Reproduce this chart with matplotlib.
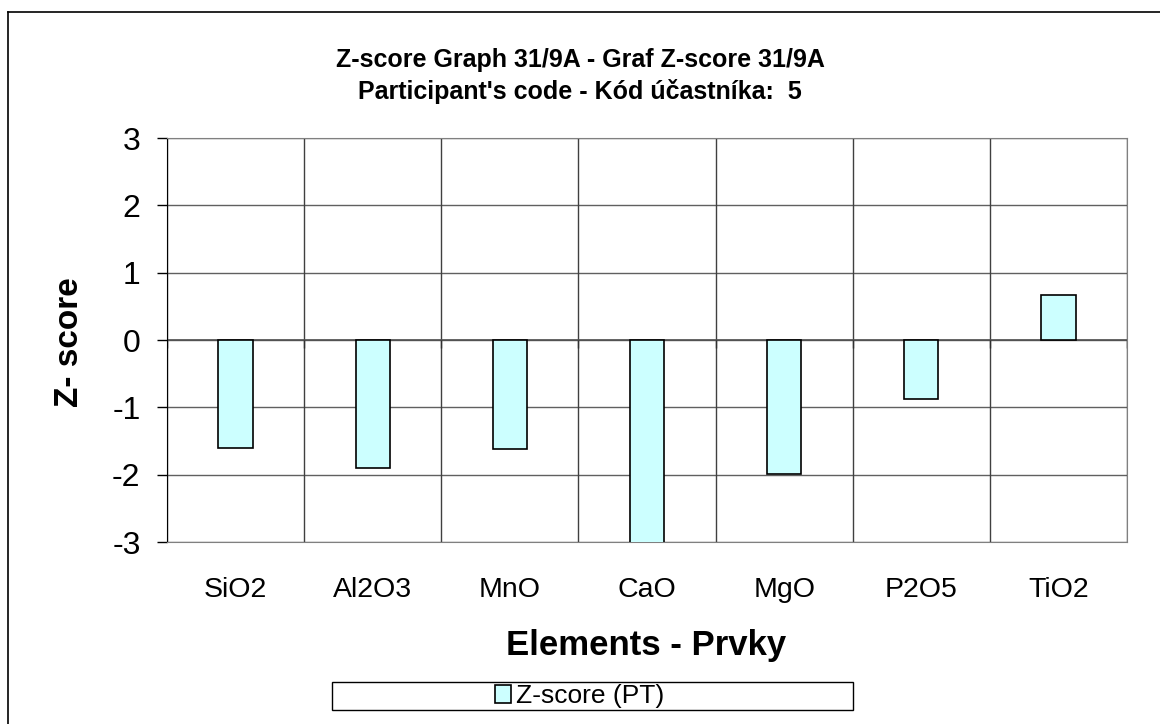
import numpy as np
import matplotlib
matplotlib.use('Agg')
import matplotlib.pyplot as plt
from matplotlib.lines import Line2D
from matplotlib.patches import Rectangle

plt.rcParams['font.family'] = ['Liberation Sans', 'DejaVu Sans']

elements = ['SiO2', 'Al2O3', 'MnO', 'CaO', 'MgO', 'P2O5', 'TiO2']
zscores = [-1.61, -1.90, -1.62, -3.5, -1.99, -0.88, 0.67]
yticks = [-3, -2, -1, 0, 1, 2, 3]

W, H = 1160, 724
fig = plt.figure(figsize=(W / 100, H / 100), dpi=100)
fig.patch.set_facecolor('white')

# plot area, taken from the pixel box of the reference
ax = fig.add_axes([167 / W, 1 - 542 / H, (1127 - 167) / W, (542 - 138) / H])

x = np.arange(len(elements))
ax.bar(x, zscores, width=0.25, color='#ccffff', edgecolor='black', linewidth=1.2, zorder=3)

ax.set_xlim(-0.5, len(elements) - 0.5)
ax.set_ylim(-3, 3)
ax.set_yticks(yticks)
ax.set_yticklabels([str(v) for v in yticks], fontsize=23)
ax.tick_params(axis='y', direction='out', length=7, width=1, pad=12)

ax.set_xticks(x)
ax.set_xticklabels(elements, fontsize=20.5)
ax.tick_params(axis='x', length=0, pad=25)

# grid
for v in yticks:
    ax.axhline(v, color='#606060', linewidth=1, zorder=1)
for b in np.arange(len(elements) + 1) - 0.5:
    ax.axvline(b, color='#404040', linewidth=1, zorder=1)

# category axis sits at zero with tick marks on the boundaries
ax.axhline(0, color='#505050', linewidth=1.2, zorder=2)
ax.vlines(np.arange(len(elements) + 1) - 0.5, -0.12, 0, color='#303030', linewidth=1, zorder=2)

for s in ['top', 'right', 'bottom']:
    ax.spines[s].set_color('#808080')
ax.spines['left'].set_color('black')

fig.text(70 / W, 1 - 342 / H, 'Z- score', rotation=90, ha='center', va='center',
         fontsize=24, fontweight='bold')

fig.text(0.5, 1 - 60 / H, 'Z-score Graph 31/9A - Graf Z-score 31/9A', ha='center', va='center',
         fontsize=18, fontweight='bold')
fig.text(0.5, 1 - 92 / H, "Participant's code - Kód účastníka:  5", ha='center', va='center',
         fontsize=18, fontweight='bold')
fig.text(646 / W, 1 - 645 / H, 'Elements - Prvky', ha='center', va='center',
         fontsize=25, fontweight='bold')

# legend box
fig.patches.append(Rectangle((332 / W, 1 - 710 / H), (853 - 332) / W, 28 / H,
                             transform=fig.transFigure, facecolor='white', edgecolor='black',
                             linewidth=1))
leg = fig.legend(handles=[Rectangle((0, 0), 1, 1, facecolor='#ccffff', edgecolor='black', linewidth=1.2)],
                 labels=['Z-score (PT)'], loc='center', bbox_to_anchor=(580 / W, 1 - 696 / H),
                 frameon=False, fontsize=19, handlelength=0.6, handleheight=0.7, handletextpad=0.2,
                 borderpad=0, borderaxespad=0)

# outer chart border (only top and left fall inside the image)
fig.lines.append(Line2D([8 / W, 1.0], [1 - 12 / H, 1 - 12 / H], transform=fig.transFigure,
                        color='black', linewidth=1.2))
fig.lines.append(Line2D([8 / W, 8 / W], [0, 1 - 12 / H], transform=fig.transFigure,
                        color='black', linewidth=1.2))

fig.savefig('out.png', dpi=100)
